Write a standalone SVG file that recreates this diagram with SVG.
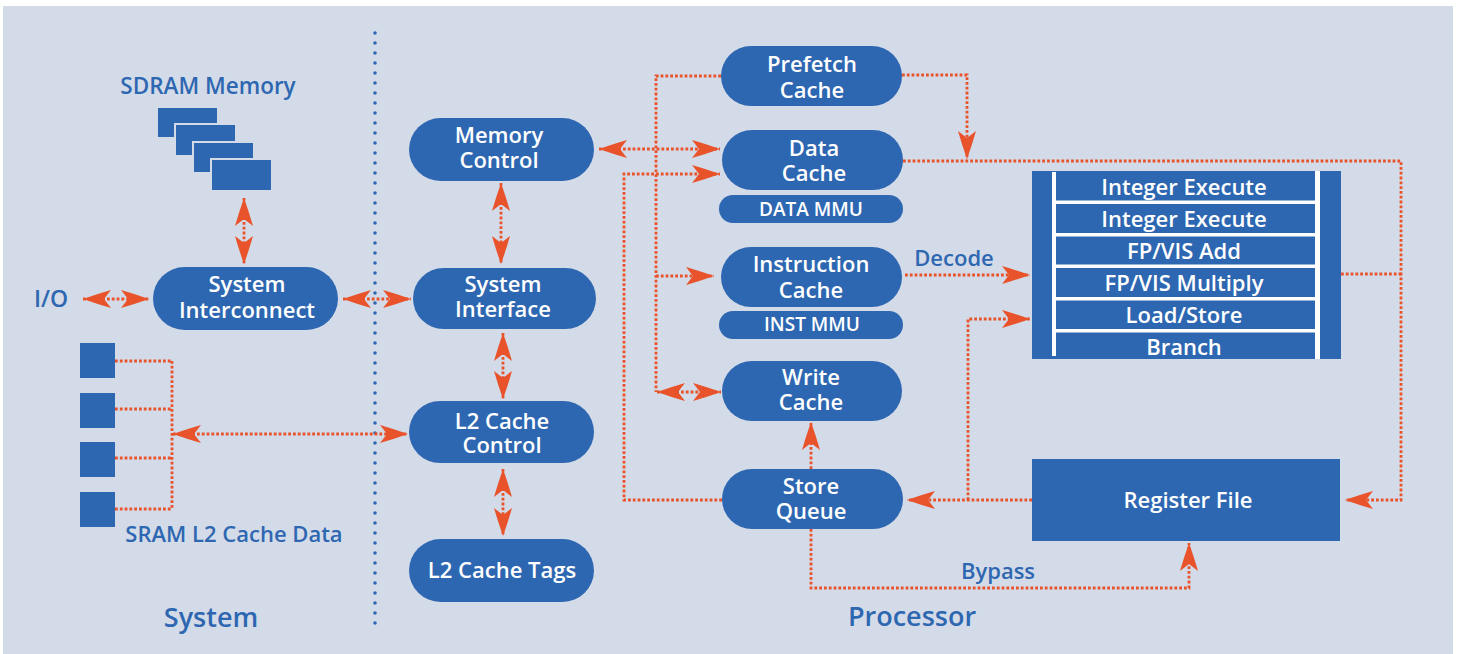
<svg xmlns="http://www.w3.org/2000/svg" width="1458" height="654" viewBox="0 0 1458 654">
<defs>
<style>
.node{fill:#2e67b1}
.nt{fill:#fff;font-family:"Open Sans","Noto Sans",sans-serif;font-size:22px;font-weight:600;text-anchor:middle}
.mt{fill:#fff;font-family:"Open Sans","Noto Sans",sans-serif;font-size:19px;font-weight:600;text-anchor:middle}
.lbl{fill:#2e67b1;font-family:"Open Sans","Noto Sans",sans-serif;font-size:22px;font-weight:600;text-anchor:middle}
.big{fill:#2e67b1;font-family:"Open Sans","Noto Sans",sans-serif;font-size:27px;font-weight:600;text-anchor:middle}
.c{fill:none;stroke:#e9532b;stroke-width:2.8;stroke-dasharray:2.8 2}
.wb{fill:#fff}
</style>
<marker id="ah" viewBox="-30 -10 32 20" refX="0" refY="0" markerWidth="32" markerHeight="20" markerUnits="userSpaceOnUse" orient="auto-start-reverse">
<path d="M0,0 Q-14,-5 -28,-9 L-21,0 L-28,9 Q-14,5 0,0Z" fill="#e9532b"/>
</marker>
</defs>
<rect x="0" y="0" width="1458" height="654" fill="#fff"/>
<rect x="3" y="6" width="1450" height="648" fill="#d4dbe8"/>
<line x1="375" y1="33" x2="375" y2="629" stroke="#2e67b1" stroke-width="3.6" stroke-dasharray="0 10" stroke-linecap="round"/>
<text class="big" x="211" y="627">System</text>
<text class="big" x="912" y="626">Processor</text>

<g id="connectors">
<path class="c" d="M244,198 V264" marker-start="url(#ah)" marker-end="url(#ah)"/>
<path class="c" d="M83,299 H149" marker-start="url(#ah)" marker-end="url(#ah)"/>
<path class="c" d="M343,299 H411" marker-start="url(#ah)" marker-end="url(#ah)"/>
<path class="c" d="M501,183 V264" marker-start="url(#ah)" marker-end="url(#ah)"/>
<path class="c" d="M503,333 V399" marker-start="url(#ah)" marker-end="url(#ah)"/>
<path class="c" d="M503,469 V536" marker-start="url(#ah)" marker-end="url(#ah)"/>
<path class="c" d="M115,361 H172 M115,409 H172 M115,458 H172 M115,509 H172 M172,361 V509"/>
<path class="c" d="M173,434 H408" marker-start="url(#ah)" marker-end="url(#ah)"/>
<path class="c" d="M599,149 H720" marker-start="url(#ah)" marker-end="url(#ah)"/>
<path class="c" d="M721,76 H656 V392"/>
<path class="c" d="M656,276 H714" marker-end="url(#ah)"/>
<path class="c" d="M657,392 H721" marker-start="url(#ah)" marker-end="url(#ah)"/>
<path class="c" d="M902,75 H967 V159" marker-end="url(#ah)"/>
<path class="c" d="M903,161 H1401 V500 H1345" marker-end="url(#ah)"/>
<path class="c" d="M1341,274 H1401"/>
<path class="c" d="M722,500 H624 V174 H720" marker-end="url(#ah)"/>
<path class="c" d="M905,275 H1030" marker-end="url(#ah)"/>
<path class="c" d="M1032,500 H907" marker-end="url(#ah)"/>
<path class="c" d="M968,500 V319 H1030" marker-end="url(#ah)"/>
<path class="c" d="M811,469 V422" marker-end="url(#ah)"/>
<path class="c" d="M811,529 V588 H1189 V543" marker-end="url(#ah)"/>
</g>

<g id="sdram">
<text class="lbl" x="208" y="94" style="font-size:22.5px">SDRAM Memory</text>
<g class="node" stroke="#d4dbe8" stroke-width="2">
<rect x="157" y="107" width="61" height="31"/>
<rect x="175" y="124" width="61" height="32"/>
<rect x="193" y="142" width="61" height="31"/>
<rect x="211" y="159" width="61" height="32"/>
</g>
</g>
<g id="io"><text class="lbl" x="51" y="307" style="font-size:23px">I/O</text></g>
<g id="system-interconnect">
<rect class="node" x="153" y="267" width="185" height="63" rx="31.5"/>
<text class="nt" x="247" y="292">System</text>
<text class="nt" x="247" y="318">Interconnect</text>
</g>
<g id="sram">
<rect class="node" x="80" y="343" width="35" height="35"/>
<rect class="node" x="80" y="393" width="35" height="35"/>
<rect class="node" x="80" y="442" width="35" height="35"/>
<rect class="node" x="80" y="492" width="35" height="35"/>
<text class="lbl" x="234" y="542">SRAM L2 Cache Data</text>
</g>
<g id="memory-control">
<rect class="node" x="409" y="118" width="185" height="63" rx="31.5"/>
<text class="nt" x="499" y="143">Memory</text>
<text class="nt" x="499" y="168">Control</text>
</g>
<g id="system-interface">
<rect class="node" x="413" y="268" width="183" height="61" rx="30.5"/>
<text class="nt" x="503" y="292">System</text>
<text class="nt" x="503" y="317">Interface</text>
</g>
<g id="l2-cache-control">
<rect class="node" x="409" y="401" width="185" height="62" rx="31"/>
<text class="nt" x="502" y="429">L2 Cache</text>
<text class="nt" x="502" y="453">Control</text>
</g>
<g id="l2-cache-tags">
<rect class="node" x="409" y="539" width="185" height="63" rx="31.5"/>
<text class="nt" x="502" y="578">L2 Cache Tags</text>
</g>
<g id="prefetch-cache">
<rect class="node" x="721" y="46" width="181" height="60" rx="30"/>
<text class="nt" x="812" y="72">Prefetch</text>
<text class="nt" x="812" y="98">Cache</text>
</g>
<g id="data-cache">
<rect class="node" x="722" y="130" width="181" height="60" rx="30"/>
<text class="nt" x="814" y="156">Data</text>
<text class="nt" x="814" y="181">Cache</text>
</g>
<g id="data-mmu">
<rect class="node" x="719" y="195" width="184" height="28" rx="14"/>
<text class="mt" x="811" y="216">DATA MMU</text>
</g>
<g id="instruction-cache">
<rect class="node" x="721" y="247" width="181" height="60" rx="30"/>
<text class="nt" x="811" y="272">Instruction</text>
<text class="nt" x="811" y="298">Cache</text>
</g>
<g id="inst-mmu">
<rect class="node" x="719" y="311" width="184" height="28" rx="14"/>
<text class="mt" x="812" y="331">INST MMU</text>
</g>
<g id="write-cache">
<rect class="node" x="722" y="361" width="180" height="60" rx="30"/>
<text class="nt" x="811" y="385">Write</text>
<text class="nt" x="811" y="410">Cache</text>
</g>
<g id="store-queue">
<rect class="node" x="722" y="469" width="181" height="60" rx="30"/>
<text class="nt" x="811" y="494">Store</text>
<text class="nt" x="811" y="519">Queue</text>
</g>
<g id="decode-label"><text class="lbl" x="954" y="266">Decode</text></g>
<g id="bypass-label"><text class="lbl" x="998" y="579">Bypass</text></g>
<g id="execution-units">
<rect class="node" x="1032" y="171" width="309" height="188"/>
<rect class="wb" x="1052" y="172" width="4" height="184"/>
<rect class="wb" x="1315" y="171" width="5" height="188"/>
<rect class="wb" x="1056" y="200.5" width="259" height="3.5"/>
<rect class="wb" x="1056" y="233" width="259" height="3.5"/>
<rect class="wb" x="1056" y="264.5" width="259" height="3.5"/>
<rect class="wb" x="1056" y="297" width="259" height="3.5"/>
<rect class="wb" x="1056" y="329" width="259" height="3.5"/>
<text class="nt" x="1184" y="195">Integer Execute</text>
<text class="nt" x="1184" y="227">Integer Execute</text>
<text class="nt" x="1184" y="259">FP/VIS Add</text>
<text class="nt" x="1184" y="291">FP/VIS Multiply</text>
<text class="nt" x="1184" y="323">Load/Store</text>
<text class="nt" x="1184" y="355">Branch</text>
</g>
<g id="register-file">
<rect class="node" x="1032" y="459" width="308" height="82"/>
<text class="nt" x="1188" y="508">Register File</text>
</g>
</svg>
